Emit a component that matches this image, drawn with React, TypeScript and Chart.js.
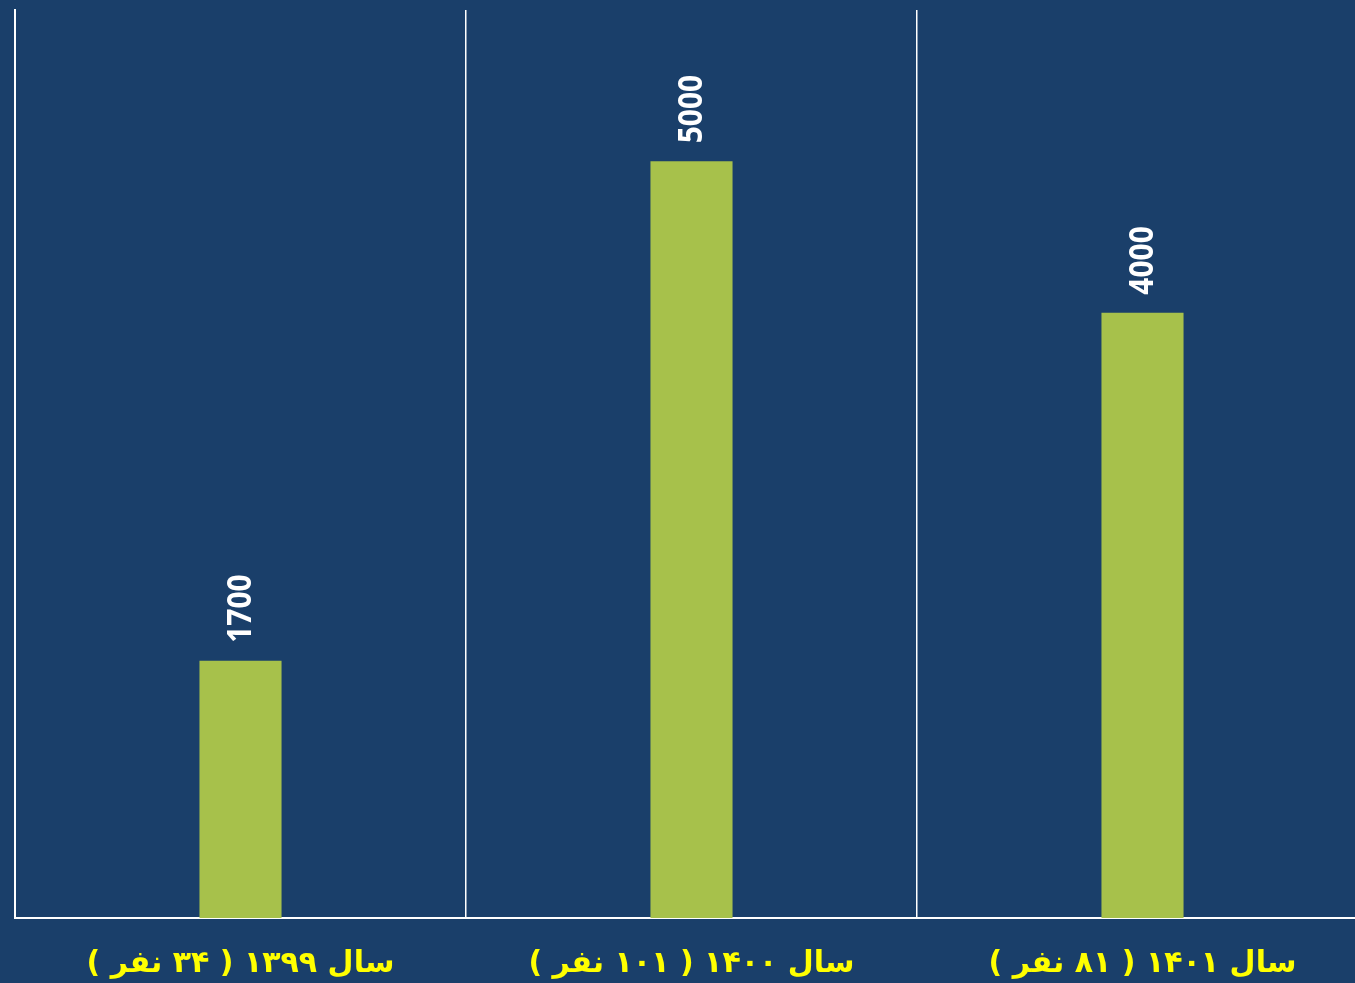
import React, { useEffect, useRef } from "react";
import { Chart, registerables } from "chart.js";

Chart.register(...registerables);

const categories = [
  "سال ۱۳۹۹ ( ۳۴ نفر )",
  "سال ۱۴۰۰ ( ۱۰۱ نفر )",
  "سال ۱۴۰۱ ( ۸۱ نفر )",
];
const values = [1700, 5000, 4000];
const yMax = 6000;

const BG = "#1a3f6a";
const BAR = "#a7c14b";

const valueLabels = {
  id: "valueLabels",
  afterDatasetsDraw(chart: any) {
    const ctx = chart.ctx;
    const meta = chart.getDatasetMeta(0);
    meta.data.forEach((bar: any, i: number) => {
      const v = chart.data.datasets[0].data[i];
      ctx.save();
      ctx.translate(bar.x + 1, bar.y - 18);
      ctx.rotate(-Math.PI / 2);
      ctx.scale(0.88, 1);
      ctx.font = "bold 34px 'Open Sans'";
      ctx.fillStyle = "#ffffff";
      ctx.textAlign = "left";
      ctx.textBaseline = "middle";
      ctx.fillText(String(v), 0, 0);
      ctx.restore();
    });
  },
};

export default function App() {
  const ref = useRef<HTMLCanvasElement>(null);
  useEffect(() => {
    if (!ref.current) return;
    const chart = new Chart(ref.current, {
      type: "bar",
      data: {
        labels: categories,
        datasets: [
          {
            data: values,
            backgroundColor: BAR,
            borderWidth: 0,
            categoryPercentage: 1,
            barPercentage: 0.182,
          },
        ],
      },
      options: {
        animation: false,
        responsive: false,
        maintainAspectRatio: false,
        layout: { padding: { left: 15, top: 10, right: 0, bottom: 0 } },
        plugins: { legend: { display: false }, tooltip: { enabled: false } },
        scales: {
          x: {
            afterFit(scale: any) {
              scale.height = 65;
            },
            grid: {
              display: true,
              offset: true,
              color: "#ffffff",
              lineWidth: 1.5,
              drawTicks: false,
            },
            border: { display: true, color: "#ffffff", width: 2 },
            ticks: {
              color: "#ffff00",
              padding: 28,
              font: { family: "'DejaVu Sans'", size: 30, weight: "bold" },
            },
          },
          y: {
            min: 0,
            max: yMax,
            display: true,
            grid: { display: false, drawTicks: false },
            border: { display: true, color: "#ffffff", width: 2 },
            ticks: { display: false },
          },
        },
      },
      plugins: [valueLabels],
    });
    return () => chart.destroy();
  }, []);
  return (
    <div
      style={{
        position: "fixed",
        left: 0,
        top: 0,
        width: 1355,
        height: 983,
        overflow: "hidden",
        background: BG,
      }}
    >
      <canvas
        ref={ref}
        dir="rtl"
        width={1368}
        height={983}
        style={{ width: 1368, height: 983, display: "block" }}
      />
    </div>
  );
}
